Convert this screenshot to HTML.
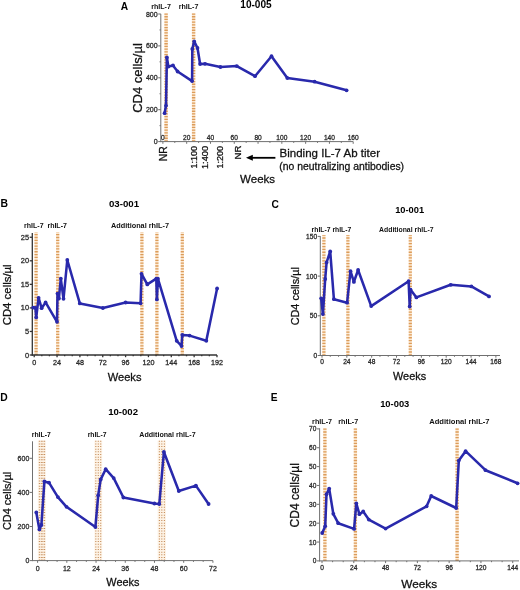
<!DOCTYPE html><html><head><meta charset="utf-8"><style>html,body{margin:0;padding:0;background:#fff;}svg{display:block;will-change:transform;}text{font-family:"Liberation Sans",sans-serif;}</style></head><body>
<svg width="520" height="590" viewBox="0 0 520 590">
<text x="124.55" y="9.6" font-size="10.2" text-anchor="middle" font-weight="bold" fill="#000">A</text>
<text x="256" y="7.8" font-size="10.1" text-anchor="middle" font-weight="bold" fill="#000">10-005</text>
<text x="161" y="8.7" font-size="7.1" text-anchor="middle" font-weight="bold" fill="#111">rhIL-7</text>
<text x="188.5" y="8.7" font-size="7.1" text-anchor="middle" font-weight="bold" fill="#111">rhIL-7</text>
<rect x="164.4" y="13.5" width="3.4" height="128.1" fill="#fce9d2"/>
<line x1="166.1" y1="141.6" x2="166.1" y2="13.5" stroke="#dc9c5a" stroke-width="3.4" stroke-dasharray="1.3 1.4"/>
<rect x="191.9" y="13.5" width="3.4" height="128.1" fill="#fce9d2"/>
<line x1="193.6" y1="141.6" x2="193.6" y2="13.5" stroke="#dc9c5a" stroke-width="3.4" stroke-dasharray="1.3 1.4"/>
<line x1="160.8" y1="13.9" x2="160.8" y2="142.1" stroke="#707070" stroke-width="1"/>
<line x1="158.2" y1="141.6" x2="160.8" y2="141.6" stroke="#707070" stroke-width="1"/>
<text x="157.6" y="141.6" font-size="7.0" text-anchor="end" stroke="#2a2a2a" stroke-width="0.28" fill="#2a2a2a" dominant-baseline="central">0</text>
<line x1="158.2" y1="109.7" x2="160.8" y2="109.7" stroke="#707070" stroke-width="1"/>
<text x="157.6" y="109.7" font-size="7.0" text-anchor="end" stroke="#2a2a2a" stroke-width="0.28" fill="#2a2a2a" dominant-baseline="central">200</text>
<line x1="158.2" y1="77.8" x2="160.8" y2="77.8" stroke="#707070" stroke-width="1"/>
<text x="157.6" y="77.8" font-size="7.0" text-anchor="end" stroke="#2a2a2a" stroke-width="0.28" fill="#2a2a2a" dominant-baseline="central">400</text>
<line x1="158.2" y1="45.9" x2="160.8" y2="45.9" stroke="#707070" stroke-width="1"/>
<text x="157.6" y="45.9" font-size="7.0" text-anchor="end" stroke="#2a2a2a" stroke-width="0.28" fill="#2a2a2a" dominant-baseline="central">600</text>
<line x1="158.2" y1="14.0" x2="160.8" y2="14.0" stroke="#707070" stroke-width="1"/>
<text x="157.6" y="14.0" font-size="7.0" text-anchor="end" stroke="#2a2a2a" stroke-width="0.28" fill="#2a2a2a" dominant-baseline="central">800</text>
<line x1="159.5" y1="125.65" x2="160.8" y2="125.65" stroke="#707070" stroke-width="1"/>
<line x1="159.5" y1="93.75" x2="160.8" y2="93.75" stroke="#707070" stroke-width="1"/>
<line x1="159.5" y1="61.85" x2="160.8" y2="61.85" stroke="#707070" stroke-width="1"/>
<line x1="159.5" y1="29.95" x2="160.8" y2="29.95" stroke="#707070" stroke-width="1"/>
<line x1="160.3" y1="141.6" x2="353.2" y2="141.6" stroke="#707070" stroke-width="1"/>
<line x1="162.9" y1="141.6" x2="162.9" y2="143.8" stroke="#707070" stroke-width="1"/>
<text x="162.9" y="137.6" font-size="6.6" text-anchor="middle" stroke="#2a2a2a" stroke-width="0.28" fill="#2a2a2a" dominant-baseline="central">0</text>
<line x1="186.69" y1="141.6" x2="186.69" y2="143.8" stroke="#707070" stroke-width="1"/>
<text x="186.69" y="137.6" font-size="6.6" text-anchor="middle" stroke="#2a2a2a" stroke-width="0.28" fill="#2a2a2a" dominant-baseline="central">20</text>
<line x1="210.48" y1="141.6" x2="210.48" y2="143.8" stroke="#707070" stroke-width="1"/>
<text x="210.48" y="137.6" font-size="6.6" text-anchor="middle" stroke="#2a2a2a" stroke-width="0.28" fill="#2a2a2a" dominant-baseline="central">40</text>
<line x1="234.26" y1="141.6" x2="234.26" y2="143.8" stroke="#707070" stroke-width="1"/>
<text x="234.26" y="137.6" font-size="6.6" text-anchor="middle" stroke="#2a2a2a" stroke-width="0.28" fill="#2a2a2a" dominant-baseline="central">60</text>
<line x1="258.05" y1="141.6" x2="258.05" y2="143.8" stroke="#707070" stroke-width="1"/>
<text x="258.05" y="137.6" font-size="6.6" text-anchor="middle" stroke="#2a2a2a" stroke-width="0.28" fill="#2a2a2a" dominant-baseline="central">80</text>
<line x1="281.84" y1="141.6" x2="281.84" y2="143.8" stroke="#707070" stroke-width="1"/>
<text x="281.84" y="137.6" font-size="6.6" text-anchor="middle" stroke="#2a2a2a" stroke-width="0.28" fill="#2a2a2a" dominant-baseline="central">100</text>
<line x1="305.63" y1="141.6" x2="305.63" y2="143.8" stroke="#707070" stroke-width="1"/>
<text x="305.63" y="137.6" font-size="6.6" text-anchor="middle" stroke="#2a2a2a" stroke-width="0.28" fill="#2a2a2a" dominant-baseline="central">120</text>
<line x1="329.42" y1="141.6" x2="329.42" y2="143.8" stroke="#707070" stroke-width="1"/>
<text x="329.42" y="137.6" font-size="6.6" text-anchor="middle" stroke="#2a2a2a" stroke-width="0.28" fill="#2a2a2a" dominant-baseline="central">140</text>
<line x1="353.2" y1="141.6" x2="353.2" y2="143.8" stroke="#707070" stroke-width="1"/>
<text x="353.2" y="137.6" font-size="6.6" text-anchor="middle" stroke="#2a2a2a" stroke-width="0.28" fill="#2a2a2a" dominant-baseline="central">160</text>
<line x1="174.79" y1="141.6" x2="174.79" y2="142.9" stroke="#707070" stroke-width="1"/>
<line x1="198.58" y1="141.6" x2="198.58" y2="142.9" stroke="#707070" stroke-width="1"/>
<line x1="222.37" y1="141.6" x2="222.37" y2="142.9" stroke="#707070" stroke-width="1"/>
<line x1="246.16" y1="141.6" x2="246.16" y2="142.9" stroke="#707070" stroke-width="1"/>
<line x1="269.95" y1="141.6" x2="269.95" y2="142.9" stroke="#707070" stroke-width="1"/>
<line x1="293.73" y1="141.6" x2="293.73" y2="142.9" stroke="#707070" stroke-width="1"/>
<line x1="317.52" y1="141.6" x2="317.52" y2="142.9" stroke="#707070" stroke-width="1"/>
<line x1="341.31" y1="141.6" x2="341.31" y2="142.9" stroke="#707070" stroke-width="1"/>
<polyline points="164.6,113.2 166,105.6 166.9,57.5 168.4,66.6 173,65.4 177.6,71.5 192.1,81.1 192.3,49 194.2,41.4 197.5,48 200.1,64 205,63.8 220.4,67 236.8,66.1 255,76.2 271.5,56.2 287.3,78 314.6,81.7 346.6,90.3" fill="none" stroke="#2929ac" stroke-width="2.55" stroke-linejoin="round" stroke-linecap="round"/>
<circle cx="164.6" cy="113.2" r="1.9" fill="#2929ac"/>
<circle cx="166" cy="105.6" r="1.9" fill="#2929ac"/>
<circle cx="166.9" cy="57.5" r="1.9" fill="#2929ac"/>
<circle cx="168.4" cy="66.6" r="1.9" fill="#2929ac"/>
<circle cx="173" cy="65.4" r="1.9" fill="#2929ac"/>
<circle cx="177.6" cy="71.5" r="1.9" fill="#2929ac"/>
<circle cx="192.1" cy="81.1" r="1.9" fill="#2929ac"/>
<circle cx="192.3" cy="49" r="1.9" fill="#2929ac"/>
<circle cx="194.2" cy="41.4" r="1.9" fill="#2929ac"/>
<circle cx="197.5" cy="48" r="1.9" fill="#2929ac"/>
<circle cx="200.1" cy="64" r="1.9" fill="#2929ac"/>
<circle cx="205" cy="63.8" r="1.9" fill="#2929ac"/>
<circle cx="220.4" cy="67" r="1.9" fill="#2929ac"/>
<circle cx="236.8" cy="66.1" r="1.9" fill="#2929ac"/>
<circle cx="255" cy="76.2" r="1.9" fill="#2929ac"/>
<circle cx="271.5" cy="56.2" r="1.9" fill="#2929ac"/>
<circle cx="287.3" cy="78" r="1.9" fill="#2929ac"/>
<circle cx="314.6" cy="81.7" r="1.9" fill="#2929ac"/>
<circle cx="346.6" cy="90.3" r="1.9" fill="#2929ac"/>
<text x="142.4" y="78" font-size="13.0" text-anchor="middle" stroke="#111" stroke-width="0.28" fill="#111" transform="rotate(-90 142.4 78)">CD4 cells/µl</text>
<text x="167.4" y="146.2" font-size="10.4" text-anchor="end" stroke="#111" stroke-width="0.28" fill="#111" transform="rotate(-90 167.4 146.2)">NR</text>
<text x="197.2" y="146.0" font-size="9.0" text-anchor="end" stroke="#111" stroke-width="0.28" fill="#111" transform="rotate(-90 197.2 146.0)">1:100</text>
<text x="208.0" y="146.0" font-size="9.2" text-anchor="end" stroke="#111" stroke-width="0.28" fill="#111" transform="rotate(-90 208.0 146.0)">1:400</text>
<text x="223.0" y="146.0" font-size="9.0" text-anchor="end" stroke="#111" stroke-width="0.28" fill="#111" transform="rotate(-90 223.0 146.0)">1:200</text>
<text x="241.0" y="145.6" font-size="9.6" text-anchor="end" stroke="#111" stroke-width="0.28" fill="#111" transform="rotate(-90 241.0 145.6)">NR</text>
<line x1="251" y1="157.8" x2="275.4" y2="157.8" stroke="#000" stroke-width="1.8"/>
<polygon points="246.0,157.8 252.8,154.8 252.8,160.8" fill="#000"/>
<text x="279.6" y="157.0" font-size="11.5" text-anchor="start" stroke="#111" stroke-width="0.28" fill="#111">Binding IL-7 Ab titer</text>
<text x="279.3" y="169.6" font-size="10.4" text-anchor="start" stroke="#111" stroke-width="0.28" fill="#111">(no neutralizing antibodies)</text>
<text x="257.6" y="183.3" font-size="11.5" text-anchor="middle" stroke="#111" stroke-width="0.28" fill="#111">Weeks</text>
<text x="4.35" y="207.1" font-size="10.4" text-anchor="middle" font-weight="bold" fill="#000">B</text>
<text x="124" y="207.4" font-size="9.7" text-anchor="middle" font-weight="bold" fill="#000">03-001</text>
<text x="33.85" y="228.2" font-size="7.0" text-anchor="middle" font-weight="bold" fill="#111">rhIL-7</text>
<text x="57.15" y="228.2" font-size="7.0" text-anchor="middle" font-weight="bold" fill="#111">rhIL-7</text>
<text x="140" y="228.2" font-size="7.3" text-anchor="middle" font-weight="bold" fill="#111">Additional rhIL-7</text>
<rect x="34.5" y="232.2" width="3.2" height="122.8" fill="#fce9d2"/>
<line x1="36.1" y1="355.0" x2="36.1" y2="232.2" stroke="#dc9c5a" stroke-width="3.2" stroke-dasharray="1.3 1.55"/>
<rect x="56.1" y="232.2" width="3.2" height="122.8" fill="#fce9d2"/>
<line x1="57.7" y1="355.0" x2="57.7" y2="232.2" stroke="#dc9c5a" stroke-width="3.2" stroke-dasharray="1.3 1.55"/>
<rect x="140.3" y="232.2" width="3.2" height="122.8" fill="#fce9d2"/>
<line x1="141.9" y1="355.0" x2="141.9" y2="232.2" stroke="#dc9c5a" stroke-width="3.2" stroke-dasharray="1.3 1.55"/>
<rect x="155.3" y="232.2" width="3.2" height="122.8" fill="#fce9d2"/>
<line x1="156.9" y1="355.0" x2="156.9" y2="232.2" stroke="#dc9c5a" stroke-width="3.2" stroke-dasharray="1.3 1.55"/>
<rect x="180.7" y="232.2" width="3.2" height="122.8" fill="#fce9d2"/>
<line x1="182.3" y1="355.0" x2="182.3" y2="232.2" stroke="#dc9c5a" stroke-width="3.2" stroke-dasharray="1.3 1.55"/>
<line x1="32.3" y1="233" x2="32.3" y2="355.65" stroke="#333" stroke-width="1.3"/>
<line x1="29.7" y1="355.0" x2="32.3" y2="355.0" stroke="#333" stroke-width="1.3"/>
<text x="29.1" y="355.0" font-size="7.4" text-anchor="end" stroke="#2a2a2a" stroke-width="0.28" fill="#2a2a2a" dominant-baseline="central">0</text>
<line x1="29.7" y1="331.45" x2="32.3" y2="331.45" stroke="#333" stroke-width="1.3"/>
<text x="29.1" y="331.45" font-size="7.4" text-anchor="end" stroke="#2a2a2a" stroke-width="0.28" fill="#2a2a2a" dominant-baseline="central">5</text>
<line x1="29.7" y1="307.9" x2="32.3" y2="307.9" stroke="#333" stroke-width="1.3"/>
<text x="29.1" y="307.9" font-size="7.4" text-anchor="end" stroke="#2a2a2a" stroke-width="0.28" fill="#2a2a2a" dominant-baseline="central">10</text>
<line x1="29.7" y1="284.35" x2="32.3" y2="284.35" stroke="#333" stroke-width="1.3"/>
<text x="29.1" y="284.35" font-size="7.4" text-anchor="end" stroke="#2a2a2a" stroke-width="0.28" fill="#2a2a2a" dominant-baseline="central">15</text>
<line x1="29.7" y1="260.8" x2="32.3" y2="260.8" stroke="#333" stroke-width="1.3"/>
<text x="29.1" y="260.8" font-size="7.4" text-anchor="end" stroke="#2a2a2a" stroke-width="0.28" fill="#2a2a2a" dominant-baseline="central">20</text>
<line x1="29.7" y1="237.25" x2="32.3" y2="237.25" stroke="#333" stroke-width="1.3"/>
<text x="29.1" y="237.25" font-size="7.4" text-anchor="end" stroke="#2a2a2a" stroke-width="0.28" fill="#2a2a2a" dominant-baseline="central">25</text>
<line x1="31.65" y1="355.0" x2="216.98" y2="355.0" stroke="#333" stroke-width="1.3"/>
<line x1="34.2" y1="355.0" x2="34.2" y2="357.2" stroke="#333" stroke-width="1.3"/>
<text x="34.2" y="362.4" font-size="7.2" text-anchor="middle" stroke="#2a2a2a" stroke-width="0.28" fill="#2a2a2a" dominant-baseline="central">0</text>
<line x1="57.05" y1="355.0" x2="57.05" y2="357.2" stroke="#333" stroke-width="1.3"/>
<text x="57.05" y="362.4" font-size="7.2" text-anchor="middle" stroke="#2a2a2a" stroke-width="0.28" fill="#2a2a2a" dominant-baseline="central">24</text>
<line x1="79.9" y1="355.0" x2="79.9" y2="357.2" stroke="#333" stroke-width="1.3"/>
<text x="79.9" y="362.4" font-size="7.2" text-anchor="middle" stroke="#2a2a2a" stroke-width="0.28" fill="#2a2a2a" dominant-baseline="central">48</text>
<line x1="102.74" y1="355.0" x2="102.74" y2="357.2" stroke="#333" stroke-width="1.3"/>
<text x="102.74" y="362.4" font-size="7.2" text-anchor="middle" stroke="#2a2a2a" stroke-width="0.28" fill="#2a2a2a" dominant-baseline="central">72</text>
<line x1="125.59" y1="355.0" x2="125.59" y2="357.2" stroke="#333" stroke-width="1.3"/>
<text x="125.59" y="362.4" font-size="7.2" text-anchor="middle" stroke="#2a2a2a" stroke-width="0.28" fill="#2a2a2a" dominant-baseline="central">96</text>
<line x1="148.44" y1="355.0" x2="148.44" y2="357.2" stroke="#333" stroke-width="1.3"/>
<text x="148.44" y="362.4" font-size="7.2" text-anchor="middle" stroke="#2a2a2a" stroke-width="0.28" fill="#2a2a2a" dominant-baseline="central">120</text>
<line x1="171.29" y1="355.0" x2="171.29" y2="357.2" stroke="#333" stroke-width="1.3"/>
<text x="171.29" y="362.4" font-size="7.2" text-anchor="middle" stroke="#2a2a2a" stroke-width="0.28" fill="#2a2a2a" dominant-baseline="central">144</text>
<line x1="194.14" y1="355.0" x2="194.14" y2="357.2" stroke="#333" stroke-width="1.3"/>
<text x="194.14" y="362.4" font-size="7.2" text-anchor="middle" stroke="#2a2a2a" stroke-width="0.28" fill="#2a2a2a" dominant-baseline="central">168</text>
<line x1="216.98" y1="355.0" x2="216.98" y2="357.2" stroke="#333" stroke-width="1.3"/>
<text x="216.98" y="362.4" font-size="7.2" text-anchor="middle" stroke="#2a2a2a" stroke-width="0.28" fill="#2a2a2a" dominant-baseline="central">192</text>
<line x1="41.82" y1="355.0" x2="41.82" y2="356.3" stroke="#333" stroke-width="1.3"/>
<line x1="49.43" y1="355.0" x2="49.43" y2="356.3" stroke="#333" stroke-width="1.3"/>
<line x1="64.66" y1="355.0" x2="64.66" y2="356.3" stroke="#333" stroke-width="1.3"/>
<line x1="72.28" y1="355.0" x2="72.28" y2="356.3" stroke="#333" stroke-width="1.3"/>
<line x1="87.51" y1="355.0" x2="87.51" y2="356.3" stroke="#333" stroke-width="1.3"/>
<line x1="95.13" y1="355.0" x2="95.13" y2="356.3" stroke="#333" stroke-width="1.3"/>
<line x1="110.36" y1="355.0" x2="110.36" y2="356.3" stroke="#333" stroke-width="1.3"/>
<line x1="117.98" y1="355.0" x2="117.98" y2="356.3" stroke="#333" stroke-width="1.3"/>
<line x1="133.21" y1="355.0" x2="133.21" y2="356.3" stroke="#333" stroke-width="1.3"/>
<line x1="140.82" y1="355.0" x2="140.82" y2="356.3" stroke="#333" stroke-width="1.3"/>
<line x1="156.06" y1="355.0" x2="156.06" y2="356.3" stroke="#333" stroke-width="1.3"/>
<line x1="163.67" y1="355.0" x2="163.67" y2="356.3" stroke="#333" stroke-width="1.3"/>
<line x1="178.9" y1="355.0" x2="178.9" y2="356.3" stroke="#333" stroke-width="1.3"/>
<line x1="186.52" y1="355.0" x2="186.52" y2="356.3" stroke="#333" stroke-width="1.3"/>
<line x1="201.75" y1="355.0" x2="201.75" y2="356.3" stroke="#333" stroke-width="1.3"/>
<line x1="209.37" y1="355.0" x2="209.37" y2="356.3" stroke="#333" stroke-width="1.3"/>
<polyline points="33.2,307.6 35.4,307.8 36.2,317.4 38.6,297.8 41.6,308.2 45.6,302.4 57.0,321.8 57.5,293.6 58.9,298.5 60.8,278.6 63.5,298.8 67.3,260.0 79.8,303.4 102.9,308 125.6,302.5 140.6,303.3 141.5,273.8 147.3,284.4 156.3,278.7 156.9,299.4 157.9,278.7 176.7,340.8 181.5,346 182.3,335 189.6,335.6 206.3,340.8 217.1,288.5" fill="none" stroke="#2929ac" stroke-width="2.55" stroke-linejoin="round" stroke-linecap="round"/>
<circle cx="33.2" cy="307.6" r="1.9" fill="#2929ac"/>
<circle cx="35.4" cy="307.8" r="1.9" fill="#2929ac"/>
<circle cx="36.2" cy="317.4" r="1.9" fill="#2929ac"/>
<circle cx="38.6" cy="297.8" r="1.9" fill="#2929ac"/>
<circle cx="41.6" cy="308.2" r="1.9" fill="#2929ac"/>
<circle cx="45.6" cy="302.4" r="1.9" fill="#2929ac"/>
<circle cx="57.0" cy="321.8" r="1.9" fill="#2929ac"/>
<circle cx="57.5" cy="293.6" r="1.9" fill="#2929ac"/>
<circle cx="58.9" cy="298.5" r="1.9" fill="#2929ac"/>
<circle cx="60.8" cy="278.6" r="1.9" fill="#2929ac"/>
<circle cx="63.5" cy="298.8" r="1.9" fill="#2929ac"/>
<circle cx="67.3" cy="260.0" r="1.9" fill="#2929ac"/>
<circle cx="79.8" cy="303.4" r="1.9" fill="#2929ac"/>
<circle cx="102.9" cy="308" r="1.9" fill="#2929ac"/>
<circle cx="125.6" cy="302.5" r="1.9" fill="#2929ac"/>
<circle cx="140.6" cy="303.3" r="1.9" fill="#2929ac"/>
<circle cx="141.5" cy="273.8" r="1.9" fill="#2929ac"/>
<circle cx="147.3" cy="284.4" r="1.9" fill="#2929ac"/>
<circle cx="156.3" cy="278.7" r="1.9" fill="#2929ac"/>
<circle cx="156.9" cy="299.4" r="1.9" fill="#2929ac"/>
<circle cx="157.9" cy="278.7" r="1.9" fill="#2929ac"/>
<circle cx="176.7" cy="340.8" r="1.9" fill="#2929ac"/>
<circle cx="181.5" cy="346" r="1.9" fill="#2929ac"/>
<circle cx="182.3" cy="335" r="1.9" fill="#2929ac"/>
<circle cx="189.6" cy="335.6" r="1.9" fill="#2929ac"/>
<circle cx="206.3" cy="340.8" r="1.9" fill="#2929ac"/>
<circle cx="217.1" cy="288.5" r="1.9" fill="#2929ac"/>
<text x="11.4" y="294.85" font-size="11.4" text-anchor="middle" stroke="#111" stroke-width="0.28" fill="#111" transform="rotate(-90 11.4 294.85)">CD4 cells/µl</text>
<text x="124.6" y="380.6" font-size="11.1" text-anchor="middle" stroke="#111" stroke-width="0.28" fill="#111">Weeks</text>
<text x="275.15" y="207.9" font-size="10.2" text-anchor="middle" font-weight="bold" fill="#000">C</text>
<text x="409.65" y="212.9" font-size="9.3" text-anchor="middle" font-weight="bold" fill="#000">10-001</text>
<text x="331.45" y="231.6" font-size="6.8" text-anchor="middle" font-weight="bold" fill="#111">rhIL-7 rhIL-7</text>
<text x="406.3" y="231.7" font-size="6.85" text-anchor="middle" font-weight="bold" fill="#111">Additional rhIL-7</text>
<rect x="322.3" y="234.9" width="3.2" height="120.6" fill="#fce9d2"/>
<line x1="323.9" y1="355.5" x2="323.9" y2="234.9" stroke="#dc9c5a" stroke-width="3.2" stroke-dasharray="1.3 1.55"/>
<rect x="346.3" y="234.9" width="3.2" height="120.6" fill="#fce9d2"/>
<line x1="347.9" y1="355.5" x2="347.9" y2="234.9" stroke="#dc9c5a" stroke-width="3.2" stroke-dasharray="1.3 1.55"/>
<rect x="408.7" y="234.9" width="3.2" height="120.6" fill="#fce9d2"/>
<line x1="410.3" y1="355.5" x2="410.3" y2="234.9" stroke="#dc9c5a" stroke-width="3.2" stroke-dasharray="1.3 1.55"/>
<line x1="320.3" y1="236.1" x2="320.3" y2="356.0" stroke="#707070" stroke-width="1"/>
<line x1="317.7" y1="355.5" x2="320.3" y2="355.5" stroke="#707070" stroke-width="1"/>
<text x="317.1" y="355.5" font-size="6.6" text-anchor="end" stroke="#2a2a2a" stroke-width="0.28" fill="#2a2a2a" dominant-baseline="central">0</text>
<line x1="317.7" y1="315.8" x2="320.3" y2="315.8" stroke="#707070" stroke-width="1"/>
<text x="317.1" y="315.8" font-size="6.6" text-anchor="end" stroke="#2a2a2a" stroke-width="0.28" fill="#2a2a2a" dominant-baseline="central">50</text>
<line x1="317.7" y1="276.1" x2="320.3" y2="276.1" stroke="#707070" stroke-width="1"/>
<text x="317.1" y="276.1" font-size="6.6" text-anchor="end" stroke="#2a2a2a" stroke-width="0.28" fill="#2a2a2a" dominant-baseline="central">100</text>
<line x1="317.7" y1="236.4" x2="320.3" y2="236.4" stroke="#707070" stroke-width="1"/>
<text x="317.1" y="236.4" font-size="6.6" text-anchor="end" stroke="#2a2a2a" stroke-width="0.28" fill="#2a2a2a" dominant-baseline="central">150</text>
<line x1="319.8" y1="355.5" x2="500.02" y2="355.5" stroke="#707070" stroke-width="1"/>
<line x1="322.0" y1="355.5" x2="322.0" y2="357.7" stroke="#707070" stroke-width="1"/>
<text x="322.0" y="361.7" font-size="6.6" text-anchor="middle" stroke="#2a2a2a" stroke-width="0.28" fill="#2a2a2a" dominant-baseline="central">0</text>
<line x1="346.84" y1="355.5" x2="346.84" y2="357.7" stroke="#707070" stroke-width="1"/>
<text x="346.84" y="361.7" font-size="6.6" text-anchor="middle" stroke="#2a2a2a" stroke-width="0.28" fill="#2a2a2a" dominant-baseline="central">24</text>
<line x1="371.68" y1="355.5" x2="371.68" y2="357.7" stroke="#707070" stroke-width="1"/>
<text x="371.68" y="361.7" font-size="6.6" text-anchor="middle" stroke="#2a2a2a" stroke-width="0.28" fill="#2a2a2a" dominant-baseline="central">48</text>
<line x1="396.52" y1="355.5" x2="396.52" y2="357.7" stroke="#707070" stroke-width="1"/>
<text x="396.52" y="361.7" font-size="6.6" text-anchor="middle" stroke="#2a2a2a" stroke-width="0.28" fill="#2a2a2a" dominant-baseline="central">72</text>
<line x1="421.36" y1="355.5" x2="421.36" y2="357.7" stroke="#707070" stroke-width="1"/>
<text x="421.36" y="361.7" font-size="6.6" text-anchor="middle" stroke="#2a2a2a" stroke-width="0.28" fill="#2a2a2a" dominant-baseline="central">96</text>
<line x1="446.2" y1="355.5" x2="446.2" y2="357.7" stroke="#707070" stroke-width="1"/>
<text x="446.2" y="361.7" font-size="6.6" text-anchor="middle" stroke="#2a2a2a" stroke-width="0.28" fill="#2a2a2a" dominant-baseline="central">120</text>
<line x1="471.04" y1="355.5" x2="471.04" y2="357.7" stroke="#707070" stroke-width="1"/>
<text x="471.04" y="361.7" font-size="6.6" text-anchor="middle" stroke="#2a2a2a" stroke-width="0.28" fill="#2a2a2a" dominant-baseline="central">144</text>
<line x1="495.88" y1="355.5" x2="495.88" y2="357.7" stroke="#707070" stroke-width="1"/>
<text x="495.88" y="361.7" font-size="6.6" text-anchor="middle" stroke="#2a2a2a" stroke-width="0.28" fill="#2a2a2a" dominant-baseline="central">168</text>
<line x1="330.28" y1="355.5" x2="330.28" y2="356.8" stroke="#707070" stroke-width="1"/>
<line x1="338.56" y1="355.5" x2="338.56" y2="356.8" stroke="#707070" stroke-width="1"/>
<line x1="355.12" y1="355.5" x2="355.12" y2="356.8" stroke="#707070" stroke-width="1"/>
<line x1="363.4" y1="355.5" x2="363.4" y2="356.8" stroke="#707070" stroke-width="1"/>
<line x1="379.96" y1="355.5" x2="379.96" y2="356.8" stroke="#707070" stroke-width="1"/>
<line x1="388.24" y1="355.5" x2="388.24" y2="356.8" stroke="#707070" stroke-width="1"/>
<line x1="404.8" y1="355.5" x2="404.8" y2="356.8" stroke="#707070" stroke-width="1"/>
<line x1="413.08" y1="355.5" x2="413.08" y2="356.8" stroke="#707070" stroke-width="1"/>
<line x1="429.64" y1="355.5" x2="429.64" y2="356.8" stroke="#707070" stroke-width="1"/>
<line x1="437.92" y1="355.5" x2="437.92" y2="356.8" stroke="#707070" stroke-width="1"/>
<line x1="454.48" y1="355.5" x2="454.48" y2="356.8" stroke="#707070" stroke-width="1"/>
<line x1="462.76" y1="355.5" x2="462.76" y2="356.8" stroke="#707070" stroke-width="1"/>
<line x1="479.32" y1="355.5" x2="479.32" y2="356.8" stroke="#707070" stroke-width="1"/>
<line x1="487.6" y1="355.5" x2="487.6" y2="356.8" stroke="#707070" stroke-width="1"/>
<polyline points="321.2,298.3 322.9,314.1 325.2,279 326.6,262.4 330.2,251.4 333.9,299.2 347.1,302.7 350.5,271.2 353.9,281.9 358.1,270 371.2,306.1 408.6,281.2 409.7,306.5 410.5,289.6 416.4,297.4 450.7,284.8 471.4,286.4 489,296.4" fill="none" stroke="#2929ac" stroke-width="2.55" stroke-linejoin="round" stroke-linecap="round"/>
<circle cx="321.2" cy="298.3" r="1.9" fill="#2929ac"/>
<circle cx="322.9" cy="314.1" r="1.9" fill="#2929ac"/>
<circle cx="325.2" cy="279" r="1.9" fill="#2929ac"/>
<circle cx="326.6" cy="262.4" r="1.9" fill="#2929ac"/>
<circle cx="330.2" cy="251.4" r="1.9" fill="#2929ac"/>
<circle cx="333.9" cy="299.2" r="1.9" fill="#2929ac"/>
<circle cx="347.1" cy="302.7" r="1.9" fill="#2929ac"/>
<circle cx="350.5" cy="271.2" r="1.9" fill="#2929ac"/>
<circle cx="353.9" cy="281.9" r="1.9" fill="#2929ac"/>
<circle cx="358.1" cy="270" r="1.9" fill="#2929ac"/>
<circle cx="371.2" cy="306.1" r="1.9" fill="#2929ac"/>
<circle cx="408.6" cy="281.2" r="1.9" fill="#2929ac"/>
<circle cx="409.7" cy="306.5" r="1.9" fill="#2929ac"/>
<circle cx="410.5" cy="289.6" r="1.9" fill="#2929ac"/>
<circle cx="416.4" cy="297.4" r="1.9" fill="#2929ac"/>
<circle cx="450.7" cy="284.8" r="1.9" fill="#2929ac"/>
<circle cx="471.4" cy="286.4" r="1.9" fill="#2929ac"/>
<circle cx="489" cy="296.4" r="1.9" fill="#2929ac"/>
<text x="299.5" y="296.2" font-size="10.9" text-anchor="middle" stroke="#111" stroke-width="0.28" fill="#111" transform="rotate(-90 299.5 296.2)">CD4 cells/µl</text>
<text x="409.55" y="380.0" font-size="10.9" text-anchor="middle" stroke="#111" stroke-width="0.28" fill="#111">Weeks</text>
<text x="4.0" y="400.5" font-size="10.3" text-anchor="middle" font-weight="bold" fill="#000">D</text>
<text x="123.1" y="415.2" font-size="9.6" text-anchor="middle" font-weight="bold" fill="#000">10-002</text>
<text x="41.25" y="437.1" font-size="6.8" text-anchor="middle" font-weight="bold" fill="#111">rhIL-7</text>
<text x="97.1" y="437.1" font-size="6.8" text-anchor="middle" font-weight="bold" fill="#111">rhIL-7</text>
<text x="167.5" y="436.9" font-size="7.1" text-anchor="middle" font-weight="bold" fill="#111">Additional rhIL-7</text>
<rect x="37.8" y="440.6" width="7.8" height="120.0" fill="#fdf3e6"/>
<line x1="39.4" y1="560.6" x2="39.4" y2="440.6" stroke="#c48a58" stroke-width="1.1" stroke-dasharray="1 1.64"/>
<line x1="41.3" y1="560.6" x2="41.3" y2="440.6" stroke="#c48a58" stroke-width="1.1" stroke-dasharray="1 1.64"/>
<line x1="42.9" y1="560.6" x2="42.9" y2="440.6" stroke="#c48a58" stroke-width="1.1" stroke-dasharray="1 1.64"/>
<line x1="44.6" y1="560.6" x2="44.6" y2="440.6" stroke="#c48a58" stroke-width="1.1" stroke-dasharray="1 1.64"/>
<rect x="94.4" y="440.6" width="7.8" height="120.0" fill="#fdf3e6"/>
<line x1="95.8" y1="560.6" x2="95.8" y2="440.6" stroke="#c48a58" stroke-width="1.1" stroke-dasharray="1 1.64"/>
<line x1="98.3" y1="560.6" x2="98.3" y2="440.6" stroke="#c48a58" stroke-width="1.1" stroke-dasharray="1 1.64"/>
<line x1="100.7" y1="560.6" x2="100.7" y2="440.6" stroke="#c48a58" stroke-width="1.1" stroke-dasharray="1 1.64"/>
<rect x="157.6" y="440.6" width="8.4" height="120.0" fill="#fdf3e6"/>
<line x1="159.4" y1="560.6" x2="159.4" y2="440.6" stroke="#c48a58" stroke-width="1.1" stroke-dasharray="1 1.64"/>
<line x1="161.8" y1="560.6" x2="161.8" y2="440.6" stroke="#c48a58" stroke-width="1.1" stroke-dasharray="1 1.64"/>
<line x1="164.4" y1="560.6" x2="164.4" y2="440.6" stroke="#c48a58" stroke-width="1.1" stroke-dasharray="1 1.64"/>
<line x1="32.5" y1="441.3" x2="32.5" y2="561.1" stroke="#707070" stroke-width="1"/>
<line x1="29.9" y1="560.6" x2="32.5" y2="560.6" stroke="#707070" stroke-width="1"/>
<text x="29.3" y="560.6" font-size="7.0" text-anchor="end" stroke="#2a2a2a" stroke-width="0.28" fill="#2a2a2a" dominant-baseline="central">0</text>
<line x1="29.9" y1="526.5" x2="32.5" y2="526.5" stroke="#707070" stroke-width="1"/>
<text x="29.3" y="526.5" font-size="7.0" text-anchor="end" stroke="#2a2a2a" stroke-width="0.28" fill="#2a2a2a" dominant-baseline="central">200</text>
<line x1="29.9" y1="492.4" x2="32.5" y2="492.4" stroke="#707070" stroke-width="1"/>
<text x="29.3" y="492.4" font-size="7.0" text-anchor="end" stroke="#2a2a2a" stroke-width="0.28" fill="#2a2a2a" dominant-baseline="central">400</text>
<line x1="29.9" y1="458.3" x2="32.5" y2="458.3" stroke="#707070" stroke-width="1"/>
<text x="29.3" y="458.3" font-size="7.0" text-anchor="end" stroke="#2a2a2a" stroke-width="0.28" fill="#2a2a2a" dominant-baseline="central">600</text>
<line x1="32.0" y1="560.6" x2="212.92" y2="560.6" stroke="#707070" stroke-width="1"/>
<line x1="37.6" y1="560.6" x2="37.6" y2="562.8" stroke="#707070" stroke-width="1"/>
<text x="37.6" y="568.0" font-size="7.0" text-anchor="middle" stroke="#2a2a2a" stroke-width="0.28" fill="#2a2a2a" dominant-baseline="central">0</text>
<line x1="66.82" y1="560.6" x2="66.82" y2="562.8" stroke="#707070" stroke-width="1"/>
<text x="66.82" y="568.0" font-size="7.0" text-anchor="middle" stroke="#2a2a2a" stroke-width="0.28" fill="#2a2a2a" dominant-baseline="central">12</text>
<line x1="96.04" y1="560.6" x2="96.04" y2="562.8" stroke="#707070" stroke-width="1"/>
<text x="96.04" y="568.0" font-size="7.0" text-anchor="middle" stroke="#2a2a2a" stroke-width="0.28" fill="#2a2a2a" dominant-baseline="central">24</text>
<line x1="125.26" y1="560.6" x2="125.26" y2="562.8" stroke="#707070" stroke-width="1"/>
<text x="125.26" y="568.0" font-size="7.0" text-anchor="middle" stroke="#2a2a2a" stroke-width="0.28" fill="#2a2a2a" dominant-baseline="central">36</text>
<line x1="154.48" y1="560.6" x2="154.48" y2="562.8" stroke="#707070" stroke-width="1"/>
<text x="154.48" y="568.0" font-size="7.0" text-anchor="middle" stroke="#2a2a2a" stroke-width="0.28" fill="#2a2a2a" dominant-baseline="central">48</text>
<line x1="183.7" y1="560.6" x2="183.7" y2="562.8" stroke="#707070" stroke-width="1"/>
<text x="183.7" y="568.0" font-size="7.0" text-anchor="middle" stroke="#2a2a2a" stroke-width="0.28" fill="#2a2a2a" dominant-baseline="central">60</text>
<line x1="212.92" y1="560.6" x2="212.92" y2="562.8" stroke="#707070" stroke-width="1"/>
<text x="212.92" y="568.0" font-size="7.0" text-anchor="middle" stroke="#2a2a2a" stroke-width="0.28" fill="#2a2a2a" dominant-baseline="central">72</text>
<line x1="47.34" y1="560.6" x2="47.34" y2="561.9" stroke="#707070" stroke-width="1"/>
<line x1="57.08" y1="560.6" x2="57.08" y2="561.9" stroke="#707070" stroke-width="1"/>
<line x1="76.56" y1="560.6" x2="76.56" y2="561.9" stroke="#707070" stroke-width="1"/>
<line x1="86.3" y1="560.6" x2="86.3" y2="561.9" stroke="#707070" stroke-width="1"/>
<line x1="105.78" y1="560.6" x2="105.78" y2="561.9" stroke="#707070" stroke-width="1"/>
<line x1="115.52" y1="560.6" x2="115.52" y2="561.9" stroke="#707070" stroke-width="1"/>
<line x1="135.0" y1="560.6" x2="135.0" y2="561.9" stroke="#707070" stroke-width="1"/>
<line x1="144.74" y1="560.6" x2="144.74" y2="561.9" stroke="#707070" stroke-width="1"/>
<line x1="164.22" y1="560.6" x2="164.22" y2="561.9" stroke="#707070" stroke-width="1"/>
<line x1="173.96" y1="560.6" x2="173.96" y2="561.9" stroke="#707070" stroke-width="1"/>
<line x1="193.44" y1="560.6" x2="193.44" y2="561.9" stroke="#707070" stroke-width="1"/>
<line x1="203.18" y1="560.6" x2="203.18" y2="561.9" stroke="#707070" stroke-width="1"/>
<polyline points="36.3,512.4 39.4,529.4 41.4,525 44.4,481.4 49,482.7 57.9,497.1 66.5,506.8 95.4,527 98.2,495.3 100.7,479.4 105.7,469.2 113.7,478.1 123.4,497.5 154.4,503.5 159.3,504 163.9,452 178.8,491 195.9,485.6 208.6,504" fill="none" stroke="#2929ac" stroke-width="2.55" stroke-linejoin="round" stroke-linecap="round"/>
<circle cx="36.3" cy="512.4" r="1.9" fill="#2929ac"/>
<circle cx="39.4" cy="529.4" r="1.9" fill="#2929ac"/>
<circle cx="41.4" cy="525" r="1.9" fill="#2929ac"/>
<circle cx="44.4" cy="481.4" r="1.9" fill="#2929ac"/>
<circle cx="49" cy="482.7" r="1.9" fill="#2929ac"/>
<circle cx="57.9" cy="497.1" r="1.9" fill="#2929ac"/>
<circle cx="66.5" cy="506.8" r="1.9" fill="#2929ac"/>
<circle cx="95.4" cy="527" r="1.9" fill="#2929ac"/>
<circle cx="98.2" cy="495.3" r="1.9" fill="#2929ac"/>
<circle cx="100.7" cy="479.4" r="1.9" fill="#2929ac"/>
<circle cx="105.7" cy="469.2" r="1.9" fill="#2929ac"/>
<circle cx="113.7" cy="478.1" r="1.9" fill="#2929ac"/>
<circle cx="123.4" cy="497.5" r="1.9" fill="#2929ac"/>
<circle cx="154.4" cy="503.5" r="1.9" fill="#2929ac"/>
<circle cx="159.3" cy="504" r="1.9" fill="#2929ac"/>
<circle cx="163.9" cy="452" r="1.9" fill="#2929ac"/>
<circle cx="178.8" cy="491" r="1.9" fill="#2929ac"/>
<circle cx="195.9" cy="485.6" r="1.9" fill="#2929ac"/>
<circle cx="208.6" cy="504" r="1.9" fill="#2929ac"/>
<text x="11.4" y="500.9" font-size="10.9" text-anchor="middle" stroke="#111" stroke-width="0.28" fill="#111" transform="rotate(-90 11.4 500.9)">CD4 cells/µl</text>
<text x="122.85" y="586.1" font-size="10.9" text-anchor="middle" stroke="#111" stroke-width="0.28" fill="#111">Weeks</text>
<text x="274.25" y="400.9" font-size="10.2" text-anchor="middle" font-weight="bold" fill="#000">E</text>
<text x="394.75" y="406.9" font-size="9.4" text-anchor="middle" font-weight="bold" fill="#000">10-003</text>
<text x="322.1" y="423.6" font-size="7.2" text-anchor="middle" font-weight="bold" fill="#111">rhIL-7</text>
<text x="348.2" y="423.6" font-size="7.2" text-anchor="middle" font-weight="bold" fill="#111">rhIL-7</text>
<text x="459.4" y="423.9" font-size="7.6" text-anchor="middle" font-weight="bold" fill="#111">Additional rhIL-7</text>
<rect x="323.25" y="428.3" width="3.3" height="132.6" fill="#fce9d2"/>
<line x1="324.9" y1="560.9" x2="324.9" y2="428.3" stroke="#dc9c5a" stroke-width="3.3" stroke-dasharray="1.3 1.55"/>
<rect x="353.75" y="428.3" width="3.3" height="132.6" fill="#fce9d2"/>
<line x1="355.4" y1="560.9" x2="355.4" y2="428.3" stroke="#dc9c5a" stroke-width="3.3" stroke-dasharray="1.3 1.55"/>
<rect x="455.45" y="428.3" width="3.3" height="132.6" fill="#fce9d2"/>
<line x1="457.1" y1="560.9" x2="457.1" y2="428.3" stroke="#dc9c5a" stroke-width="3.3" stroke-dasharray="1.3 1.55"/>
<line x1="319.6" y1="428.3" x2="319.6" y2="561.4" stroke="#707070" stroke-width="1"/>
<line x1="317.0" y1="560.9" x2="319.6" y2="560.9" stroke="#707070" stroke-width="1"/>
<text x="316.4" y="560.9" font-size="6.6" text-anchor="end" stroke="#2a2a2a" stroke-width="0.28" fill="#2a2a2a" dominant-baseline="central">0</text>
<line x1="317.0" y1="542.04" x2="319.6" y2="542.04" stroke="#707070" stroke-width="1"/>
<text x="316.4" y="542.04" font-size="6.6" text-anchor="end" stroke="#2a2a2a" stroke-width="0.28" fill="#2a2a2a" dominant-baseline="central">10</text>
<line x1="317.0" y1="523.18" x2="319.6" y2="523.18" stroke="#707070" stroke-width="1"/>
<text x="316.4" y="523.18" font-size="6.6" text-anchor="end" stroke="#2a2a2a" stroke-width="0.28" fill="#2a2a2a" dominant-baseline="central">20</text>
<line x1="317.0" y1="504.32" x2="319.6" y2="504.32" stroke="#707070" stroke-width="1"/>
<text x="316.4" y="504.32" font-size="6.6" text-anchor="end" stroke="#2a2a2a" stroke-width="0.28" fill="#2a2a2a" dominant-baseline="central">30</text>
<line x1="317.0" y1="485.46" x2="319.6" y2="485.46" stroke="#707070" stroke-width="1"/>
<text x="316.4" y="485.46" font-size="6.6" text-anchor="end" stroke="#2a2a2a" stroke-width="0.28" fill="#2a2a2a" dominant-baseline="central">40</text>
<line x1="317.0" y1="466.6" x2="319.6" y2="466.6" stroke="#707070" stroke-width="1"/>
<text x="316.4" y="466.6" font-size="6.6" text-anchor="end" stroke="#2a2a2a" stroke-width="0.28" fill="#2a2a2a" dominant-baseline="central">50</text>
<line x1="317.0" y1="447.74" x2="319.6" y2="447.74" stroke="#707070" stroke-width="1"/>
<text x="316.4" y="447.74" font-size="6.6" text-anchor="end" stroke="#2a2a2a" stroke-width="0.28" fill="#2a2a2a" dominant-baseline="central">60</text>
<line x1="317.0" y1="428.88" x2="319.6" y2="428.88" stroke="#707070" stroke-width="1"/>
<text x="316.4" y="428.88" font-size="6.6" text-anchor="end" stroke="#2a2a2a" stroke-width="0.28" fill="#2a2a2a" dominant-baseline="central">70</text>
<line x1="319.1" y1="560.9" x2="519" y2="560.9" stroke="#707070" stroke-width="1"/>
<line x1="322.0" y1="560.9" x2="322.0" y2="563.1" stroke="#707070" stroke-width="1"/>
<text x="322.0" y="567.6" font-size="6.6" text-anchor="middle" stroke="#2a2a2a" stroke-width="0.28" fill="#2a2a2a" dominant-baseline="central">0</text>
<line x1="353.79" y1="560.9" x2="353.79" y2="563.1" stroke="#707070" stroke-width="1"/>
<text x="353.79" y="567.6" font-size="6.6" text-anchor="middle" stroke="#2a2a2a" stroke-width="0.28" fill="#2a2a2a" dominant-baseline="central">24</text>
<line x1="385.58" y1="560.9" x2="385.58" y2="563.1" stroke="#707070" stroke-width="1"/>
<text x="385.58" y="567.6" font-size="6.6" text-anchor="middle" stroke="#2a2a2a" stroke-width="0.28" fill="#2a2a2a" dominant-baseline="central">48</text>
<line x1="417.36" y1="560.9" x2="417.36" y2="563.1" stroke="#707070" stroke-width="1"/>
<text x="417.36" y="567.6" font-size="6.6" text-anchor="middle" stroke="#2a2a2a" stroke-width="0.28" fill="#2a2a2a" dominant-baseline="central">72</text>
<line x1="449.15" y1="560.9" x2="449.15" y2="563.1" stroke="#707070" stroke-width="1"/>
<text x="449.15" y="567.6" font-size="6.6" text-anchor="middle" stroke="#2a2a2a" stroke-width="0.28" fill="#2a2a2a" dominant-baseline="central">96</text>
<line x1="480.94" y1="560.9" x2="480.94" y2="563.1" stroke="#707070" stroke-width="1"/>
<text x="480.94" y="567.6" font-size="6.6" text-anchor="middle" stroke="#2a2a2a" stroke-width="0.28" fill="#2a2a2a" dominant-baseline="central">120</text>
<line x1="512.73" y1="560.9" x2="512.73" y2="563.1" stroke="#707070" stroke-width="1"/>
<text x="512.73" y="567.6" font-size="6.6" text-anchor="middle" stroke="#2a2a2a" stroke-width="0.28" fill="#2a2a2a" dominant-baseline="central">144</text>
<line x1="332.6" y1="560.9" x2="332.6" y2="562.2" stroke="#707070" stroke-width="1"/>
<line x1="343.19" y1="560.9" x2="343.19" y2="562.2" stroke="#707070" stroke-width="1"/>
<line x1="364.38" y1="560.9" x2="364.38" y2="562.2" stroke="#707070" stroke-width="1"/>
<line x1="374.98" y1="560.9" x2="374.98" y2="562.2" stroke="#707070" stroke-width="1"/>
<line x1="396.17" y1="560.9" x2="396.17" y2="562.2" stroke="#707070" stroke-width="1"/>
<line x1="406.77" y1="560.9" x2="406.77" y2="562.2" stroke="#707070" stroke-width="1"/>
<line x1="427.96" y1="560.9" x2="427.96" y2="562.2" stroke="#707070" stroke-width="1"/>
<line x1="438.56" y1="560.9" x2="438.56" y2="562.2" stroke="#707070" stroke-width="1"/>
<line x1="459.75" y1="560.9" x2="459.75" y2="562.2" stroke="#707070" stroke-width="1"/>
<line x1="470.34" y1="560.9" x2="470.34" y2="562.2" stroke="#707070" stroke-width="1"/>
<line x1="491.54" y1="560.9" x2="491.54" y2="562.2" stroke="#707070" stroke-width="1"/>
<line x1="502.13" y1="560.9" x2="502.13" y2="562.2" stroke="#707070" stroke-width="1"/>
<polyline points="322.2,533.0 325.2,526.2 326.5,494.2 329.2,488.6 333.3,513.8 338.2,523.2 354.1,528.9 356.3,503.4 359.4,514.2 363.2,511.5 368.8,519.6 385.6,528.6 426.6,506.3 431.2,496.0 456.2,508.0 458.8,460.6 465.6,451.2 485.5,470.2 517.6,483.3" fill="none" stroke="#2929ac" stroke-width="2.55" stroke-linejoin="round" stroke-linecap="round"/>
<circle cx="322.2" cy="533.0" r="1.9" fill="#2929ac"/>
<circle cx="325.2" cy="526.2" r="1.9" fill="#2929ac"/>
<circle cx="326.5" cy="494.2" r="1.9" fill="#2929ac"/>
<circle cx="329.2" cy="488.6" r="1.9" fill="#2929ac"/>
<circle cx="333.3" cy="513.8" r="1.9" fill="#2929ac"/>
<circle cx="338.2" cy="523.2" r="1.9" fill="#2929ac"/>
<circle cx="354.1" cy="528.9" r="1.9" fill="#2929ac"/>
<circle cx="356.3" cy="503.4" r="1.9" fill="#2929ac"/>
<circle cx="359.4" cy="514.2" r="1.9" fill="#2929ac"/>
<circle cx="363.2" cy="511.5" r="1.9" fill="#2929ac"/>
<circle cx="368.8" cy="519.6" r="1.9" fill="#2929ac"/>
<circle cx="385.6" cy="528.6" r="1.9" fill="#2929ac"/>
<circle cx="426.6" cy="506.3" r="1.9" fill="#2929ac"/>
<circle cx="431.2" cy="496.0" r="1.9" fill="#2929ac"/>
<circle cx="456.2" cy="508.0" r="1.9" fill="#2929ac"/>
<circle cx="458.8" cy="460.6" r="1.9" fill="#2929ac"/>
<circle cx="465.6" cy="451.2" r="1.9" fill="#2929ac"/>
<circle cx="485.5" cy="470.2" r="1.9" fill="#2929ac"/>
<circle cx="517.6" cy="483.3" r="1.9" fill="#2929ac"/>
<text x="298.5" y="495.25" font-size="12.0" text-anchor="middle" stroke="#111" stroke-width="0.28" fill="#111" transform="rotate(-90 298.5 495.25)">CD4 cells/µl</text>
<text x="419.15" y="588.4" font-size="11.8" text-anchor="middle" stroke="#111" stroke-width="0.28" fill="#111">Weeks</text>
</svg></body></html>
